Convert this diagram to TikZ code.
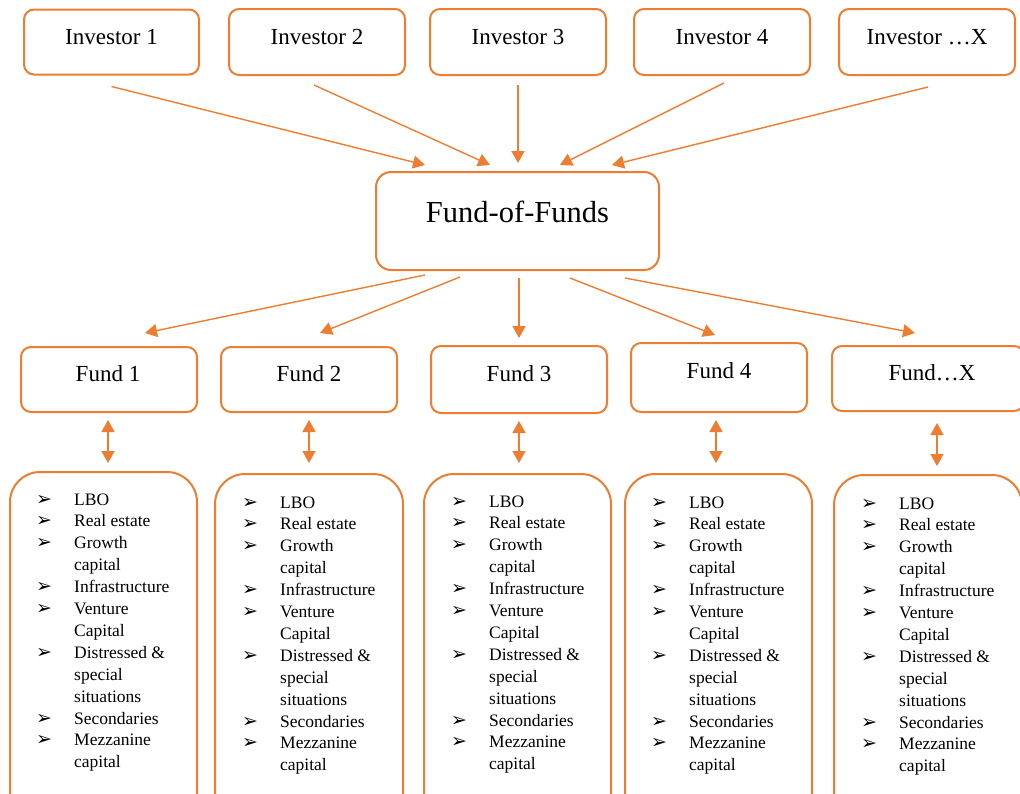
\documentclass[tikz,border=0pt]{standalone}
\usepackage{fontspec}
\setmainfont{Liberation Serif}
\newfontfamily\dingfont{DejaVu Sans}
\usetikzlibrary{arrows.meta,calc}
\definecolor{org}{HTML}{ED7D31}
\tikzset{
 box/.style={draw=org, line width=2pt, rounded corners=10pt, inner sep=0pt, outer sep=0pt, fill=white},
 bigbox/.style={box, rounded corners=30pt},
 arr/.style={draw=org, line width=1.4pt, -{Triangle[width=13pt,length=12pt]}},
 darr/.style={draw=org, line width=1.4pt, {Triangle[width=13pt,length=12pt]}-{Triangle[width=13pt,length=12pt]}},
 lbl/.style={inner sep=0pt, font=\fontsize{23}{27}\selectfont},
 lst/.style={inner sep=0pt, anchor=base west, font=\fontsize{17.5}{21.9}\selectfont},
}
\newcommand{\bl}{{\dingfont\fontsize{19}{19}\selectfont ➢}}
\newcommand{\fundlist}{\begin{tabular}[t]{@{}p{38pt}@{}l@{}}
\bl & LBO\\ \bl & Real estate\\ \bl & Growth\\ & capital\\ \bl & Infrastructure\\ \bl & Venture\\ & Capital\\ \bl & Distressed \&\\ & special\\ & situations\\ \bl & Secondaries\\ \bl & Mezzanine\\ & capital
\end{tabular}}
\begin{document}
\begin{tikzpicture}[x=1pt,y=-1pt]
\useasboundingbox (0,0) rectangle (1020,793);
\clip (0,0) rectangle (1020,793);
% investors
\node[box, minimum width=175pt, minimum height=65pt] (inv1) at (111.5,42) {};
\node[box, minimum width=176pt, minimum height=66pt] (inv2) at (317,42) {};
\node[box, minimum width=176pt, minimum height=66pt] (inv3) at (518,42) {};
\node[box, minimum width=176pt, minimum height=66pt] (inv4) at (722,42) {};
\node[box, minimum width=176pt, minimum height=66pt] (invX) at (927,42) {};
\node[lbl] (t1) at (111.5,37) {Investor 1};
\node[lbl] (t2) at (317,37) {Investor 2};
\node[lbl] (t3) at (518,37) {Investor 3};
\node[lbl] (t4) at (722,37) {Investor 4};
\node[lbl] (t5) at (927,37) {Investor …X};
% fund of funds
\node[box, rounded corners=15pt, minimum width=283pt, minimum height=98pt] (fof) at (517.5,221) {};
\node[lbl, font=\fontsize{30.5}{34}\selectfont] (tf) at (517.5,212) {Fund-of-Funds};
% funds
\node[box, minimum width=176pt, minimum height=65pt] (f1) at (109,379.5) {};
\node[box, minimum width=176pt, minimum height=65pt] (f2) at (309,379.5) {};
\node[box, minimum width=176pt, minimum height=67pt] (f3) at (519,379.5) {};
\node[box, minimum width=176pt, minimum height=69pt] (f4) at (719,377.5) {};
\node[box, minimum width=192pt, minimum height=65pt] (fX) at (928,378.5) {};
\node[lbl] (u1) at (108,374) {Fund 1};
\node[lbl] (u2) at (309,374) {Fund 2};
\node[lbl] (u3) at (519,374) {Fund 3};
\node[lbl] (u4) at (719,371) {Fund 4};
\node[lbl] (u5) at (932,373) {Fund…X};
% bottom boxes
\node[bigbox, minimum width=187pt, minimum height=358pt] (b1) at (103.5,651) {};
\node[bigbox, minimum width=188pt, minimum height=356pt] (b2) at (309,652) {};
\node[bigbox, minimum width=187pt, minimum height=356pt] (b3) at (517.5,652) {};
\node[bigbox, minimum width=187pt, minimum height=356pt] (b4) at (718.5,652) {};
\node[bigbox, minimum width=188pt, minimum height=355pt] (b5) at (928,652.5) {};
\node[lst] (l1) at (36,505) {\fundlist};
\node[lst] (l2) at (242,508) {\fundlist};
\node[lst] (l3) at (451,507) {\fundlist};
\node[lst] (l4) at (651,508) {\fundlist};
\node[lst] (l5) at (861,509) {\fundlist};
% investor arrows
\draw[arr] ([yshift=-12pt]inv1.south) -- ([xshift=-92.5pt,yshift=7pt]fof.north);
\draw[arr] ([xshift=-3pt,yshift=-10pt]inv2.south) -- ([xshift=-27.5pt,yshift=7pt]fof.north);
\draw[arr] ([yshift=-10pt]inv3.south) -- ([xshift=0.5pt,yshift=9pt]fof.north);
\draw[arr] ([xshift=2pt,yshift=-8pt]inv4.south) -- ([xshift=42.5pt,yshift=7pt]fof.north);
\draw[arr] ([xshift=1pt,yshift=-12pt]invX.south) -- ([xshift=94.5pt,yshift=7pt]fof.north);
% fof to funds
\draw[arr] ([xshift=-92.5pt,yshift=-5pt]fof.south) -- ([xshift=36pt,yshift=14pt]f1.north);
\draw[arr] ([xshift=-57.5pt,yshift=-7pt]fof.south) -- ([xshift=11pt,yshift=14pt]f2.north);
\draw[arr] ([xshift=1.5pt,yshift=-8pt]fof.south) -- ([yshift=8pt]f3.north);
\draw[arr] ([xshift=52.5pt,yshift=-8pt]fof.south) -- ([xshift=-4pt,yshift=8pt]f4.north);
\draw[arr] ([xshift=107.5pt,yshift=-8pt]fof.south) -- ([xshift=-13pt,yshift=13pt]fX.north);
% double arrows
\draw[darr] ([xshift=-1pt,yshift=-8pt]f1.south) -- ([xshift=-1pt,yshift=9pt]f1.south |- b1.north);
\draw[darr] ([yshift=-8pt]f2.south) -- ([yshift=11pt]f2.south |- b2.north);
\draw[darr] ([yshift=-8pt]f3.south) -- ([yshift=11pt]f3.south |- b3.north);
\draw[darr] ([xshift=-3pt,yshift=-8pt]f4.south) -- ([xshift=-3pt,yshift=11pt]f4.south |- b4.north);
\draw[darr] ([xshift=9pt,yshift=-12pt]fX.south) -- ([xshift=9pt,yshift=9pt]fX.south |- b5.north);
\end{tikzpicture}
\end{document}
